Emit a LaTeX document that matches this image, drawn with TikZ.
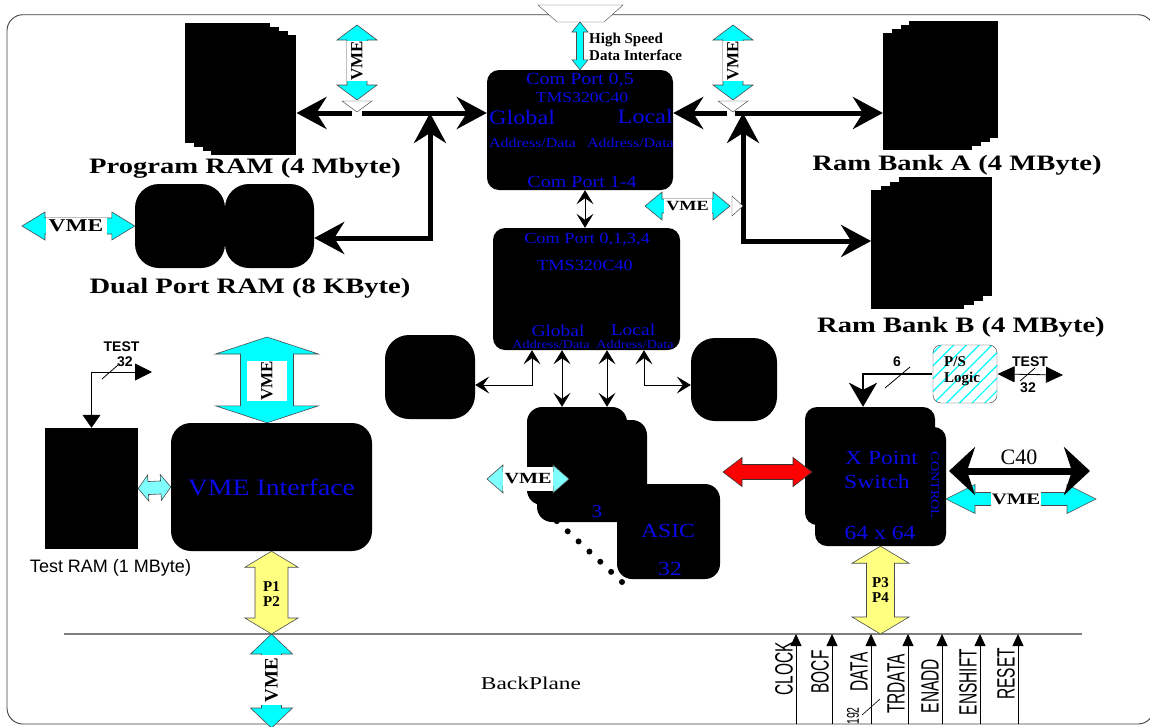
\documentclass[tikz,border=0pt]{standalone}
\usepackage{fontspec}
\setmainfont{Liberation Serif}
\setsansfont{Liberation Sans}
\newfontfamily\wideserif[FakeStretch=1.3]{Liberation Serif}
\newfontfamily\blueserif[FakeStretch=1.18]{Liberation Serif}
\newfontfamily\narrowsans[FakeStretch=0.62]{Liberation Sans}
\usetikzlibrary{positioning,calc,arrows.meta,patterns.meta}

\definecolor{vmecyan}{RGB}{0,255,255}
\definecolor{pyellow}{RGB}{255,255,128}
\definecolor{xred}{RGB}{255,0,0}
\definecolor{chipblue}{RGB}{10,10,230}

\newcommand{\pxsize}[1]{\fontsize{#1}{#1}\selectfont}

% wide arrow with two heads: style, from, to, shaft half width, head half width, head length
\newcommand{\fatarrow}[6][]{%
	\coordinate (fa1) at ($(#2)!#6!(#3)$);
	\coordinate (fa2) at ($(#3)!#6!(#2)$);
	\draw[#1] (#2) -- ($(fa1)!#5!90:(#3)$) -- ($(fa1)!#4!90:(#3)$)
		-- ($(fa2)!#4!-90:(#2)$) -- ($(fa2)!#5!-90:(#2)$) -- (#3)
		-- ($(fa2)!#5!90:(#2)$) -- ($(fa2)!#4!90:(#2)$)
		-- ($(fa1)!#4!-90:(#3)$) -- ($(fa1)!#5!-90:(#3)$) -- cycle;
}

\tikzset{
	chip/.style={fill=black, rounded corners=12pt, inner sep=0pt},
	page/.style={fill=black, inner sep=0pt, anchor=north west},
	drum/.style={fill=black, rounded corners=24pt, inner sep=0pt},
	chip text/.style={text=chipblue, inner sep=0pt, font=\blueserif\pxsize{#1}},
	caption/.style={inner sep=0pt, font=\wideserif\bfseries\pxsize{22}},
	vme tag/.style={fill=white, inner sep=0pt, font=\wideserif\bfseries\pxsize{#1}},
	vme turned/.style={fill=white, inner sep=0pt, rotate=90, font=\bfseries\pxsize{#1}},
	vme arrow/.style={fill=vmecyan, draw=black!70, line width=0.6pt},
	pale arrow/.style={fill=vmecyan!50, draw=black!70, line width=0.6pt},
	p arrow/.style={fill=pyellow, draw=black!70, line width=0.6pt},
	bus/.style={line width=5pt, {Stealth[length=30pt,width=32pt,inset=10pt]}-{Stealth[length=30pt,width=32pt,inset=10pt]}},
	link/.style={line width=1pt, {Stealth[length=14pt,width=17pt,inset=6pt]}-{Stealth[length=14pt,width=17pt,inset=6pt]}},
	signal/.style={line width=0.8pt, -{Triangle[length=12pt,width=11pt]}},
	small sans/.style={inner sep=0pt, font=\sffamily\bfseries\pxsize{14}},
	signal name/.style={inner sep=0pt, rotate=90, font=\narrowsans\pxsize{25}}
}

\begin{document}
\begin{tikzpicture}[x=1pt, y=-1pt]
	\useasboundingbox (0,0) rectangle (1150,726);
	\draw[black!75, line width=0.9pt, rounded corners=16pt] (7,14.7) rectangle (1154,724);
	\draw[black!75, fill=white] (538,5) -- (623,5) -- (604,22) -- (557,22) -- cycle;
	\coordinate (hsd) at (580,22);
	
	% processors
	\node[chip, minimum width=186pt, minimum height=120pt] (cpuA) at (580,130) {};
	\node[chip, minimum width=187pt, minimum height=122pt] (cpuB) at (586.5,289) {};
	
	\node[chip text=17] (cpuAtop) at (580,80) {Com Port 0,5};
	\node[chip text=15] (cpuAname) at (582,98) {TMS320C40};
	\node[chip text=20.5, anchor=west] (cpuAglob) at (489,117) {Global};
	\node[chip text=20.5, anchor=east] (cpuAloc) at (673,116) {Local};
	\node[chip text=13.5, anchor=west] (cpuAgad) at (489,143) {Address/Data};
	\node[chip text=13.5, anchor=east] (cpuAlad) at (674,143) {Address/Data};
	\node[chip text=17] (cpuAbot) at (582,182) {Com Port 1-4};
	
	\node[chip text=15.5] (cpuBtop) at (587,240) {Com Port 0,1,3,4};
	\node[chip text=15.5] (cpuBname) at (585,265) {TMS320C40};
	\node[chip text=16.5] (cpuBglob) at (558,331) {Global};
	\node[chip text=16.5] (cpuBloc) at (633,330) {Local};
	\node[chip text=12] (cpuBgad) at (551,344.5) {Address/Data};
	\node[chip text=12] (cpuBlad) at (635,344.5) {Address/Data};
	
	% memories
	\foreach \i in {0,...,3} {
		\node[page, minimum width=85pt, minimum height=120pt] (prog\i) at ({185+8.7*\i},{23+4*\i}) {};
		\node[page, minimum width=89pt, minimum height=117pt] (bankA\i) at ({909-8.7*\i},{21+4*\i}) {};
		\node[page, minimum width=93pt, minimum height=119pt] (bankB\i) at ({899-9.3*\i},{177+4.3*\i}) {};
	}
	\node[caption] (progcap) at (245,168) {Program RAM (4 Mbyte)};
	\node[caption] (dpcap) at (250,288) {Dual Port RAM (8 KByte)};
	\node[caption] (bankAcap) at (957,165) {Ram Bank A (4 MByte)};
	\node[caption] (bankBcap) at (961,327) {Ram Bank B (4 MByte)};
	
	\node[drum, minimum width=90pt, minimum height=84pt] (dpA) at (180,226) {};
	\node[drum, minimum width=89pt, minimum height=84pt] (dpB) at (269.5,226) {};
	\node[drum, minimum width=90pt, minimum height=84pt] (cylL) at (430,377) {};
	\node[drum, minimum width=86pt, minimum height=83pt] (cylR) at (734,379.5) {};
	
	% asic stack
	\node[chip, rounded corners=15pt, minimum width=100pt, minimum height=98pt] (asicA) at (577,456) {};
	\node[chip, rounded corners=15pt, minimum width=110pt, minimum height=102pt] (asicB) at (592,471) {};
	\node[chip, rounded corners=15pt, minimum width=103pt, minimum height=95pt] (asic32) at (668.5,531.5) {};
	\node[chip text=18] (asicN) at (597,512) {3};
	\node[chip text=20] (asicname) at (668,531) {ASIC};
	\node[chip text=20] (asicnum) at (670,569) {32};
	\foreach \i in {0,...,7}
		\fill ($(546,511)!\i/7!(622,582)$) circle (3pt);
	
	% vme side
	\node[fill=black, inner sep=0pt, minimum width=93pt, minimum height=121pt] (testram) at (91.5,488.5) {};
	\node[inner sep=0pt, font=\sffamily\pxsize{18}] (testcap) at (110.5,568) {Test RAM (1 MByte)};
	\node[chip, rounded corners=20pt, minimum width=201pt, minimum height=128pt,
		text=chipblue, font=\blueserif\pxsize{23.5}] (vmeif) at (271.5,487) {VME Interface};
	
	% crosspoint switch
	\node[chip, minimum width=131pt, minimum height=119pt] (xpsB) at (880.5,486.5) {};
	\node[chip, minimum width=130pt, minimum height=118pt] (xpsA) at (870,466) {};
	\node[chip text=20] (xpsl1) at (881.5,458) {X Point};
	\node[chip text=20] (xpsl2) at (877,482) {Switch};
	\node[chip text=20] (xpsl3) at (880,533) {64 x 64};
	\node[chip text=12, rotate=-90] (xpsctl) at (935,485) {CONTROL};
	
	\node[draw=black!80, rounded corners=8pt, minimum width=64pt, minimum height=58pt,
		pattern={Lines[angle=45,distance=9pt,line width=1.2pt]}, pattern color=vmecyan] (psl) at (965,374) {};
	\node[align=left, inner sep=0pt, anchor=west, font=\bfseries\fontsize{15}{16}\selectfont] (psltext) at (944,371) {P/S\\Logic};
	
	% buses
	\coordinate (pj) at (430,113);
	\coordinate (pk) at (430,238);
	\coordinate (rj) at (743,113);
	\coordinate (rk) at (743,241);
	\draw[bus] (prog3.east |- pj) -- (cpuA.west |- pj);
	\draw[bus] (dpB.east |- pk) -| (pj);
	\draw[bus] (cpuA.east |- rj) -- (bankA3.west |- rj);
	\draw[bus] (bankB3.west |- rk) -| (rj);
	\fill[white] (352,108) rectangle (362,118);
	\fill[white] (727,108) rectangle (735,118);
	\draw[black!80, fill=white] (342,101) -- (372,101) -- (357,112) -- cycle;
	\draw[black!80, fill=white] (718,101) -- (748,101) -- (733,112) -- cycle;
	\draw[black!80, fill=white] (732,196) -- (743,206) -- (732,216) -- cycle;
	
	% vme arrows
	\fatarrow[vme arrow]{hsd}{cpuA.north}{3.5pt}{8pt}{10pt}
	\node[align=left, inner sep=0pt, anchor=west, font=\bfseries\fontsize{15}{17}\selectfont] (hsdtext) at (589,46.5) {High Speed\\Data Interface};
	
	\coordinate (vmeLtop) at (357,25);
	\coordinate (bufL) at (357,100);
	\fatarrow[vme arrow]{vmeLtop}{bufL}{10pt}{20pt}{15pt}
	\node[vme turned=17, minimum width=40pt, minimum height=21pt] (vmeLtag) at (357,61) {VME};
	\coordinate (vmeRtop) at (733,25);
	\coordinate (bufR) at (733,100);
	\fatarrow[vme arrow]{vmeRtop}{bufR}{10pt}{20pt}{15pt}
	\node[vme turned=17, minimum width=40pt, minimum height=21pt] (vmeRtag) at (733,61) {VME};
	
	\coordinate (vmeDP) at (22,226);
	\fatarrow[vme arrow]{vmeDP}{dpA.west}{8pt}{14pt}{23pt}
	\node[vme tag=18, minimum width=61pt, minimum height=17pt] (vmeDPtag) at (76,226) {VME};
	
	\coordinate (vmeBl) at (645,206);
	\coordinate (vmeBr) at (730,206);
	\fatarrow[vme arrow]{vmeBl}{vmeBr}{7pt}{14pt}{17pt}
	\node[vme tag=14, minimum width=48pt, minimum height=15pt] (vmeBtag) at (687.5,206) {VME};
	
	\coordinate (vmeIFtop) at (267,337);
	\coordinate (vmeIFbot) at (vmeIFtop |- vmeif.north);
	\fatarrow[vme arrow]{vmeIFtop}{vmeIFbot}{26.5pt}{51.5pt}{17pt}
	\node[vme turned=17, minimum width=38pt, minimum height=40pt] (vmeIFtag) at (267,381) {VME};
	
	\fatarrow[pale arrow]{testram.east}{vmeif.west}{6.5pt}{13pt}{10pt}
	
	\coordinate (vmeAl) at (487,479);
	\coordinate (vmeAr) at (569,479);
	\fatarrow[pale arrow]{vmeAl}{vmeAr}{7pt}{14pt}{16pt}
	\node[vme tag=15.5, minimum width=50pt, minimum height=24pt] (vmeAtag) at (528,479) {VME};
	
	\coordinate (redL) at (723,472);
	\coordinate (redR) at (812,472);
	\fatarrow[fill=xred, draw=black!80, line width=0.6pt]{redL}{redR}{7.5pt}{14.5pt}{19pt}
	
	\coordinate (vmeCl) at (946,499);
	\coordinate (vmeCr) at (1096,499);
	\fatarrow[vme arrow]{vmeCl}{vmeCr}{6.5pt}{14.5pt}{29pt}
	\node[vme tag=16, minimum width=50pt, minimum height=15pt] (vmeCtag) at (1016,499) {VME};
	\coordinate (c40L) at (949,471);
	\coordinate (c40R) at (1090,471);
	\draw[line width=7pt, {Stealth[length=26pt,width=48pt,inset=8pt]}-{Stealth[length=26pt,width=48pt,inset=8pt]}] (c40L) -- (c40R);
	\node[inner sep=0pt, font=\pxsize{22}] (c40text) at (1019,457) {C40};
	
	% processor links
	\draw[link] ([xshift=5pt]cpuA.south) -- ([xshift=-1.5pt]cpuB.north);
	\draw[link] ([xshift=-54.5pt]cpuB.south) |- ([yshift=-8pt]cylL.east);
	\draw[link] ([xshift=-24.5pt]cpuB.south) -- ([xshift=-15pt]asicA.north);
	\draw[link] ([xshift=20.5pt]cpuB.south) -- ([xshift=30pt]asicA.north);
	\draw[link] ([xshift=57.5pt]cpuB.south) |- ([yshift=-5.5pt]cylR.west);
	
	% test and control lines
	\coordinate (testOut) at (152,372);
	\draw[line width=0.8pt, {Triangle[length=13pt,width=18pt]}-{Triangle[length=17pt,width=17pt]}] (testram.north) |- (testOut);
	\draw[line width=0.8pt] (102,379) -- (118,365);
	\node[small sans] (testA) at (121.5,347) {TEST};
	\node[small sans] (testAw) at (125,362) {32};
	
	\draw[line width=2.5pt, -{Stealth[length=24pt,width=28pt,inset=7pt]}] (psl.west) -| ([xshift=-7pt]xpsA.north);
	\draw[line width=0.8pt] (885,388) -- (910,367);
	\node[small sans] (pslw) at (897,362) {6};
	\coordinate (pslTest) at (1063,375);
	\draw[line width=0.8pt, {Triangle[length=17pt,width=16pt]}-{Triangle[length=17pt,width=16pt]}] (psl.east) -- (pslTest);
	\draw[line width=0.8pt] (1020,381) -- (1035,368);
	\node[small sans] (testB) at (1030,362) {TEST};
	\node[small sans] (testBw) at (1028,388) {32};
	
	% backplane
	\coordinate (bpW) at (64,634);
	\coordinate (bpE) at (1082,634);
	\draw[black!50, line width=1.5pt] (bpW) -- (bpE);
	\node[inner sep=0pt, font=\wideserif\pxsize{18}] (bptext) at (531,683) {BackPlane};
	
	\coordinate (bpP12) at (271.5,634);
	\fatarrow[p arrow]{vmeif.south}{bpP12}{16.5pt}{26.5pt}{16pt}
	\node[align=center, inner sep=0pt, font=\bfseries\fontsize{15}{15}\selectfont] (p12) at (271.5,594.5) {P1\\P2};
	\coordinate (vmeBP) at (271.5,728);
	\fatarrow[vme arrow]{bpP12}{vmeBP}{10pt}{21pt}{20pt}
	\node[vme turned=19, minimum width=50pt, minimum height=21pt] (vmeBPtag) at (271.5,680) {VME};
	
	\coordinate (bpP34) at (880.5,634);
	\fatarrow[p arrow]{xpsB.south}{bpP34}{14pt}{28.5pt}{17pt}
	\node[align=center, inner sep=0pt, font=\bfseries\fontsize{15}{15}\selectfont] (p34) at (880.5,590.5) {P3\\P4};
	
	\foreach \x/\name/\y in {796/CLOCK/669, 832/BOCF/672, 871/DATA/672, 908/TRDATA/684, 942/ENADD/686, 980/ENSHIFT/682, 1018/RESET/674} {
		\coordinate (in\name) at (\x,724);
		\draw[signal] (in\name) -- (in\name |- bpW);
		\node[signal name] (sig\name) at (\x-12,\y) {\name};
	}
	\draw[line width=0.6pt] (862,715) -- (880,699);
	\node[signal name, font=\narrowsans\pxsize{17}] (datawidth) at (853,716) {192};
\end{tikzpicture}
\end{document}
